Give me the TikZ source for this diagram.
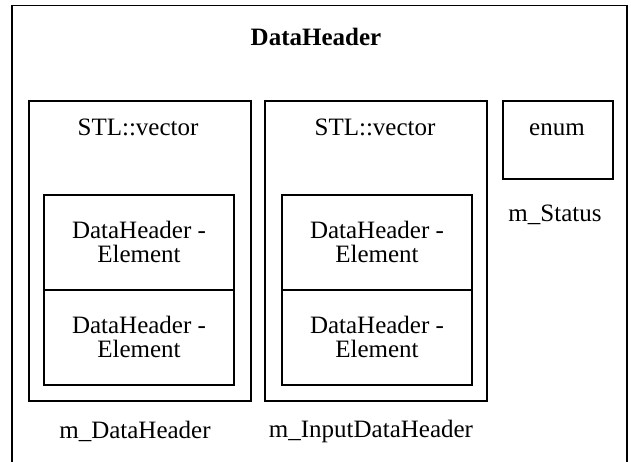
\documentclass[tikz,border=0pt]{standalone}
\usepackage{fontspec}
\setmainfont{Liberation Serif}
\begin{document}
\begin{tikzpicture}[x=1pt,y=-1pt,
  box/.style={draw=black,line width=1.7pt,inner sep=0pt},
  lbl/.style={inner sep=0pt,font=\fontsize{25}{24}\selectfont,align=center},
  title/.style={inner sep=0pt,font=\fontsize{25}{24}\selectfont\bfseries}]
\clip (0,0) rectangle (631,462);
\fill[white] (0,0) rectangle (631,462);
% outer
\node[box,minimum width=615pt,minimum height=500pt] (outer) at (319.5,255.5) {};
\node[title] (title) at (316,37) {DataHeader};
% vector 1
\node[box,minimum width=222pt,minimum height=300pt] (vec1) at (140,251) {};
\node[lbl] (vt1) at (138,127) {STL::vector};
\node[box,minimum width=190pt,minimum height=95pt] (e11) at (139,242.5) {};
\node[box,minimum width=190pt,minimum height=95pt] (e12) at (139,337.5) {};
\node[lbl] (e11t) at (139,242) {DataHeader -\\Element};
\node[lbl] (e12t) at (139,337) {DataHeader -\\Element};
\node[lbl] (m1) at (135,431) {m\_DataHeader};
% vector 2
\node[box,minimum width=222pt,minimum height=300pt] (vec2) at (376,251) {};
\node[lbl] (vt2) at (375,127) {STL::vector};
\node[box,minimum width=190pt,minimum height=95pt] (e21) at (377,242.5) {};
\node[box,minimum width=190pt,minimum height=95pt] (e22) at (377,337.5) {};
\node[lbl] (e21t) at (377,242) {DataHeader -\\Element};
\node[lbl] (e22t) at (377,337) {DataHeader -\\Element};
\node[lbl] (m2) at (371,431) {m\_InputDataHeader};
% enum
\node[box,minimum width=110pt,minimum height=78pt] (en) at (558,140) {};
\node[lbl] (ent) at (557,130) {enum};
\node[lbl] (ms) at (555,215) {m\_Status};
\end{tikzpicture}
\end{document}
